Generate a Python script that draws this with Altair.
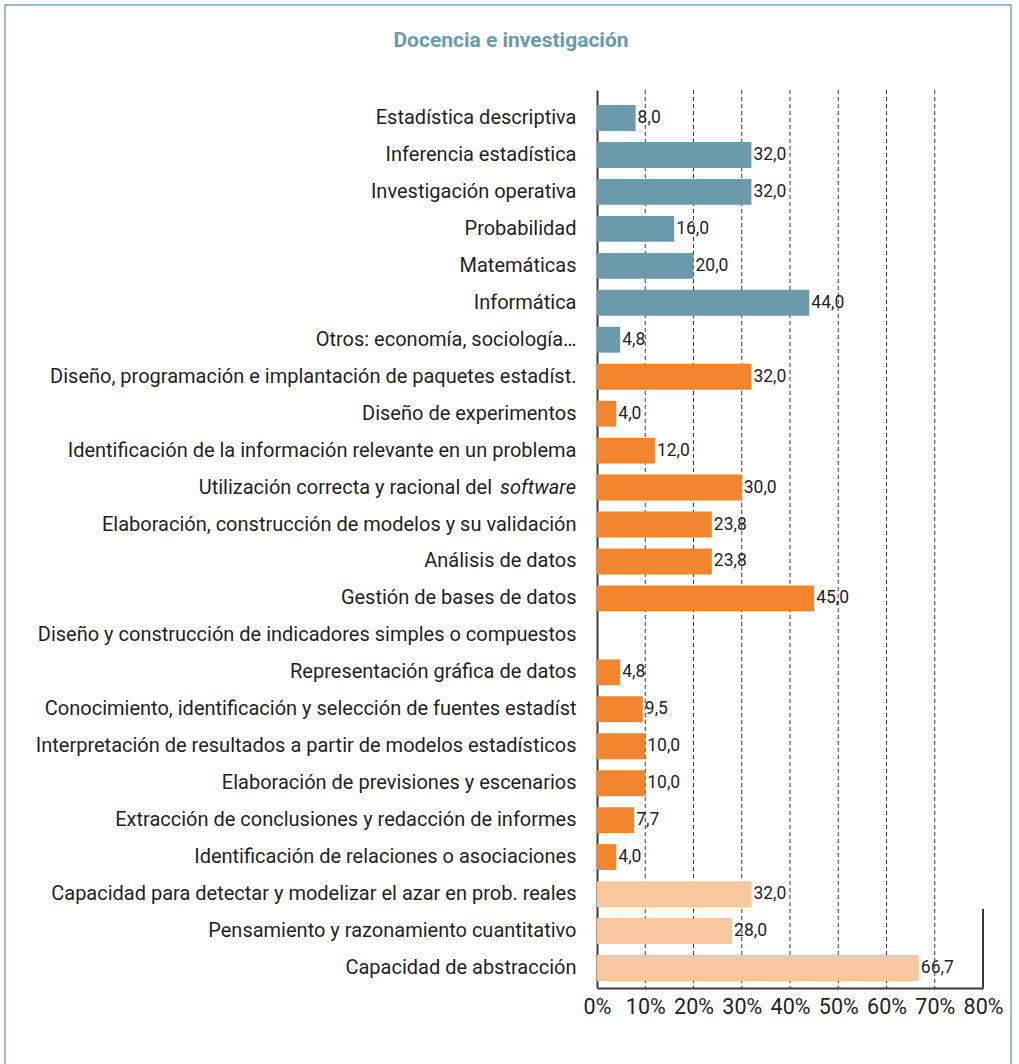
import altair as alt
import pandas as pd

FONT = "Roboto"

title_text = "Docencia e investigación"

categories = [
    "Estadística descriptiva",
    "Inferencia estadística",
    "Investigación operativa",
    "Probabilidad",
    "Matemáticas",
    "Informática",
    "Otros: economía, sociología…",
    "Diseño, programación e implantación de paquetes estadíst.",
    "Diseño de experimentos",
    "Identificación de la información relevante en un problema",
    "Utilización correcta y racional del software",
    "Elaboración, construcción de modelos y su validación",
    "Análisis de datos",
    "Gestión de bases de datos",
    "Diseño y construcción de indicadores simples o compuestos",
    "Representación gráfica de datos",
    "Conocimiento, identificación y selección de fuentes estadíst",
    "Interpretación de resultados a partir de modelos estadísticos",
    "Elaboración de previsiones y escenarios",
    "Extracción de conclusiones y redacción de informes",
    "Identificación de relaciones o asociaciones",
    "Capacidad para detectar y modelizar el azar en prob. reales",
    "Pensamiento y razonamiento cuantitativo",
    "Capacidad de abstracción",
]
values = [8.0, 32.0, 32.0, 16.0, 20.0, 44.0, 4.8,
          32.0, 4.0, 12.0, 30.0, 23.8, 23.8, 45.0, None, 4.8, 9.5, 10.0, 10.0, 7.7, 4.0,
          32.0, 28.0, 66.7]
groups = ["A"] * 7 + ["B"] * 14 + ["C"] * 3
group_colors = ["#6B9AAC", "#F2852E", "#FAC89E"]
tick_values = [0, 10, 20, 30, 40, 50, 60, 70, 80]
grid_values = [10, 20, 30, 40, 50, 60, 70]

italic_category = "Utilización correcta y racional del software"
italic_plain = "Utilización correcta y racional del"
italic_part = "software"

df = pd.DataFrame({"cat": categories, "value": values, "group": groups})
grid_df = pd.DataFrame({"g": grid_values})
italic_df = pd.DataFrame({"cat": [italic_category], "plain": [italic_plain], "ital": [italic_part]})
one_df = pd.DataFrame({"t": [title_text]})

LABEL_SIZE = 20

y_axis = alt.Axis(title=None, ticks=False, labelPadding=21, labelFontSize=LABEL_SIZE, labelFont=FONT,
                  labelColor="#231F20", domainColor="#3A3A3A", domainWidth=2, labelLimit=0,
                  labelExpr=f"datum.value == '{italic_category}' ? '' : datum.value")
y_enc = alt.Y("cat:N", sort=categories,
              scale=alt.Scale(paddingInner=0.3, paddingOuter=0.3, align=0.68), axis=y_axis)

x_axis = alt.Axis(title=None, values=tick_values, labelExpr="datum.value + '%'", grid=False, ticks=False,
                  labelFlush=False, labelFontSize=21.5, labelFont=FONT, labelColor="#231F20",
                  labelPadding=8, domainColor="#3A3A3A", domainWidth=2)
x_scale = alt.Scale(domain=[0, 80], nice=False)


def x_enc(field):
    return alt.X(field, scale=x_scale, axis=x_axis)


frame = alt.Chart(one_df).mark_rect(fillOpacity=0, stroke="#7FA3B5", strokeWidth=1.5).encode(
    x=alt.value(-592), x2=alt.value(414), y=alt.value(-85), y2=alt.value(1000))

title = alt.Chart(one_df).mark_text(align="center", baseline="middle", fontSize=21, font=FONT,
                                    fontWeight="bold", color="#6B9AAC").encode(
    x=alt.value(-86), y=alt.value(-49), text="t:N")

grid = alt.Chart(grid_df).mark_rule(color="#3A3A3A", strokeWidth=1, strokeDash=[4, 3]).encode(
    x=x_enc("g:Q"))

bars = alt.Chart(df).mark_bar().encode(
    x=x_enc("value:Q"), y=y_enc,
    color=alt.Color("group:N", scale=alt.Scale(domain=["A", "B", "C"], range=group_colors), legend=None))

labels = alt.Chart(df).transform_filter("isValid(datum.value)").transform_calculate(
    label="replace(format(datum.value, '.1f'), '.', ',')"
).mark_text(align="left", baseline="middle", dx=2, fontSize=17.5, font=FONT, color="#231F20").encode(
    x=x_enc("value:Q"), y=y_enc, text="label:N")

right_line = alt.Chart(one_df).mark_rule(color="#3A3A3A", strokeWidth=2).encode(
    x=alt.value(386), y=alt.value(819), y2=alt.value(898))

ital = alt.Chart(italic_df).mark_text(align="right", baseline="middle", fontSize=LABEL_SIZE, font=FONT,
                                       fontStyle="italic", color="#231F20").encode(
    x=alt.value(-21), y=y_enc, text="ital:N")
plain = alt.Chart(italic_df).mark_text(align="right", baseline="middle", fontSize=LABEL_SIZE, font=FONT,
                                        color="#231F20").encode(
    x=alt.value(-105), y=y_enc, text="plain:N")

chart = alt.layer(frame, title, grid, bars, labels, right_line, ital, plain).properties(
    width=386, height=898,
    background="white",
    autosize=alt.AutoSizeParams(type="none"),
    padding={"left": 597, "top": 90, "right": 36, "bottom": 76},
).configure_view(stroke=None)

chart.save("out.html", embed_options={"renderer": "svg", "actions": False})
